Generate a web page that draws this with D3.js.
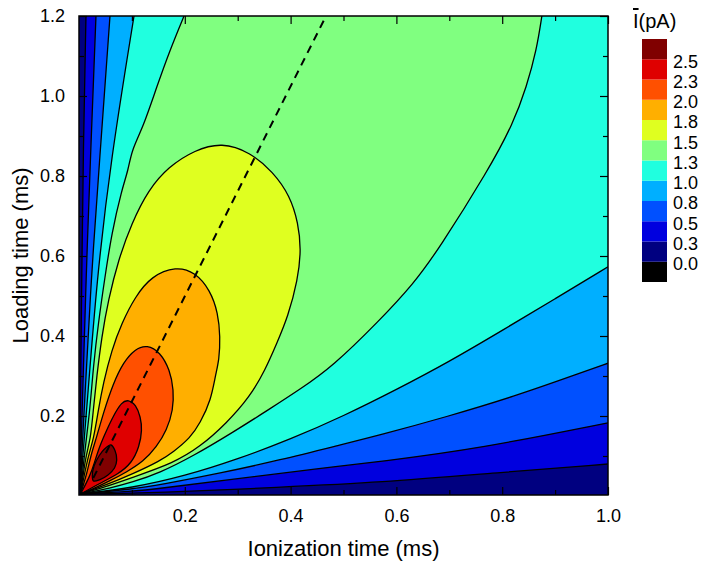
<!DOCTYPE html>
<html>
<head>
<meta charset="utf-8">
<script src="https://cdn.jsdelivr.net/npm/d3@7"></script>
<style>
  body { margin: 0; background: #fff; }
  text { font-family: "Liberation Sans", Arial, sans-serif; fill: #000; }
</style>
</head>
<body>
<svg id="chart" width="704" height="565"></svg>
<script>
// contour levels (pA) and the fill colour of each band (navy = 0..0.25 ... dark red = >2.5)
var levels = [0.25, 0.5, 0.75, 1.0, 1.25, 1.5, 1.75, 2.0, 2.25, 2.5];
var bandColors = ["#000080", "#0000df", "#0050ff", "#00afff", "#20ffdf", "#80ff80",
                  "#dfff20", "#ffaf00", "#ff5000", "#df0000", "#800000"];
var belowColor = "#000000";
var barLabels = ["0.0", "0.3", "0.5", "0.8", "1.0", "1.3", "1.5", "1.8", "2.0", "2.3", "2.5"];

var xMajor = [0.2, 0.4, 0.6, 0.8, 1.0];
var xMinor = [0.1, 0.3, 0.5, 0.7, 0.9];
var yMajor = [0.2, 0.4, 0.6, 0.8, 1.0, 1.2];
var yMinor = [0.1, 0.3, 0.5, 0.7, 0.9, 1.1];

// contour lines, [ionization ms, loading ms]
// open levels: L = branch above the ridge, R = branch below, both from the origin outwards
var origin = [0.003, 0.005];
var c025L = [origin, [0.0015, 0.1], [0.0035, 0.32], [0.0051, 0.54], [0.0081, 0.865], [0.0132, 1.2]];
var c025R = [origin, [0.15, 0.008], [0.38, 0.022], [0.57, 0.034], [0.78, 0.057], [1.0, 0.08]];
var c050L = [origin, [0.0029, 0.1], [0.0062, 0.215], [0.0132, 0.54], [0.0215, 0.84], [0.0321, 1.2]];
var c050R = [origin, [0.1, 0.011], [0.153, 0.019], [0.304, 0.044], [0.456, 0.069], [0.569, 0.086],
             [0.758, 0.119], [1.0, 0.183]];
var c075L = [origin, [0.0047, 0.1], [0.01, 0.215], [0.0227, 0.54], [0.039, 0.84], [0.0586, 1.2]];
var c075R = [origin, [0.1, 0.017], [0.153, 0.028], [0.267, 0.057], [0.38, 0.09], [0.493, 0.1275],
             [0.569, 0.1525], [0.695, 0.198], [0.821, 0.248], [0.947, 0.307], [1.0, 0.332]];
var c100L = [origin, [0.0068, 0.1], [0.0146, 0.215], [0.0335, 0.54], [0.06, 0.84], [0.104, 1.2]];
var c100R = [origin, [0.1, 0.02], [0.2, 0.05], [0.3, 0.092], [0.4, 0.142], [0.5, 0.2], [0.6, 0.266],
             [0.7, 0.336], [0.8, 0.414], [0.9, 0.493], [1.0, 0.573]];
var c125L = [origin, [0.0097, 0.1], [0.0208, 0.215], [0.027, 0.323], [0.0365, 0.432], [0.0491, 0.548],
             [0.0618, 0.657], [0.0807, 0.765], [0.0932, 0.815], [0.0996, 0.865], [0.1215, 0.923],
             [0.147, 1.023], [0.172, 1.115], [0.1985, 1.2]];
var c125R = [origin, [0.06, 0.02], [0.1, 0.034], [0.153, 0.058], [0.216, 0.1], [0.292, 0.16],
             [0.361, 0.218], [0.418, 0.267], [0.478, 0.322], [0.569, 0.44], [0.632, 0.53],
             [0.679, 0.615], [0.774, 0.815], [0.821, 0.932], [0.846, 1.023], [0.865, 1.115],
             [0.875, 1.2]];
// closed levels, drawn from the origin round the loop and back
var c150 = [origin, [0.0125, 0.1], [0.0217, 0.14], [0.027, 0.215], [0.0335, 0.298], [0.0429, 0.398],
            [0.0554, 0.49], [0.0743, 0.59], [0.0996, 0.682], [0.131, 0.765], [0.169, 0.823],
            [0.219, 0.865], [0.27, 0.884], [0.323, 0.86], [0.367, 0.81], [0.399, 0.75],
            [0.4145, 0.682], [0.42, 0.615], [0.4135, 0.54], [0.395, 0.448], [0.374, 0.382],
            [0.352, 0.315], [0.323, 0.248], [0.279, 0.182], [0.229, 0.123], [0.178, 0.082],
            [0.1, 0.046], [0.049, 0.0225], origin];
var c175 = [origin, [0.017, 0.1], [0.0274, 0.14], [0.0365, 0.215], [0.0459, 0.282], [0.0618, 0.365],
            [0.0807, 0.432], [0.106, 0.498], [0.137, 0.55], [0.1834, 0.574], [0.219, 0.56],
            [0.248, 0.515], [0.263, 0.457], [0.267, 0.398], [0.265, 0.34], [0.258, 0.3025],
            [0.2495, 0.24], [0.229, 0.182], [0.21, 0.145], [0.178, 0.11], [0.153, 0.0875],
            [0.1026, 0.056], [0.0524, 0.028], origin];
var c200 = [origin, [0.0157, 0.06], [0.022, 0.1], [0.0335, 0.148], [0.0459, 0.207], [0.0648, 0.282],
            [0.0837, 0.334], [0.106, 0.368], [0.129, 0.378], [0.153, 0.36], [0.172, 0.315],
            [0.179, 0.265], [0.178, 0.215], [0.166, 0.165], [0.147, 0.123], [0.1215, 0.086],
            [0.0902, 0.06], [0.0586, 0.038], [0.027, 0.018], origin];
var c225 = [origin, [0.0208, 0.05], [0.0289, 0.082], [0.0384, 0.123], [0.0524, 0.165], [0.0648, 0.2],
            [0.0807, 0.235], [0.0932, 0.241], [0.1077, 0.228], [0.1163, 0.198], [0.1195, 0.165],
            [0.114, 0.123], [0.0996, 0.082], [0.0743, 0.055], [0.0397, 0.032], origin];
var c250 = [[0.0605, 0.1275], [0.068, 0.114], [0.0713, 0.09], [0.0671, 0.07], [0.0548, 0.0525],
            [0.0397, 0.041], [0.0274, 0.0375], [0.0251, 0.05], [0.0284, 0.075], [0.0378, 0.1],
            [0.0482, 0.1175]];

// dashed ridge line
var ridgeX = [0.027, 0.467];
var ridgeY = [0.045, 1.2];

var svg = d3.select("#chart");
var x = d3.scaleLinear().domain([0, 1]).range([79, 608]);
var y = d3.scaleLinear().domain([0, 1.2]).range([496, 16]);
var frame = { left: x(0), right: x(1), top: y(1.2), bottom: 495 };

svg.append("clipPath").attr("id", "plotClip")
  .append("rect")
  .attr("x", frame.left).attr("y", frame.top)
  .attr("width", frame.right - frame.left).attr("height", frame.bottom - frame.top);

var curve = d3.line()
  .x(function(d) { return x(d[0]); })
  .y(function(d) { return y(d[1]); })
  .curve(d3.curveBasis);

var loop = d3.line()
  .x(function(d) { return x(d[0]); })
  .y(function(d) { return y(d[1]); })
  .curve(d3.curveCatmullRomClosed.alpha(0.5));

function openRegion(L, R, ends) {
  var p = curve(L.slice().reverse()) + curve(R).replace(/^M/, "L");
  ends.forEach(function(c) { p += "L" + x(c[0]) + "," + y(c[1]); });
  return p + "Z";
}

var regions = [
  { fill: openRegion(c025L, c025R, [[1.05, 0.08], [1.05, 1.25], [0.0132, 1.25]]), line: [curve(c025L), curve(c025R)] },
  { fill: openRegion(c050L, c050R, [[1.05, 0.183], [1.05, 1.25], [0.0321, 1.25]]), line: [curve(c050L), curve(c050R)] },
  { fill: openRegion(c075L, c075R, [[1.05, 0.332], [1.05, 1.25], [0.0586, 1.25]]), line: [curve(c075L), curve(c075R)] },
  { fill: openRegion(c100L, c100R, [[1.05, 0.573], [1.05, 1.25], [0.104, 1.25]]), line: [curve(c100L), curve(c100R)] },
  { fill: openRegion(c125L, c125R, [[0.875, 1.25], [0.1985, 1.25]]), line: [curve(c125L), curve(c125R)] },
  { fill: curve(c150) + "Z", line: [curve(c150)] },
  { fill: curve(c175) + "Z", line: [curve(c175)] },
  { fill: curve(c200) + "Z", line: [curve(c200)] },
  { fill: curve(c225) + "Z", line: [curve(c225)] },
  { fill: loop(c250), line: [loop(c250)] }
];

var plot = svg.append("g").attr("clip-path", "url(#plotClip)");

plot.append("rect")
  .attr("x", frame.left).attr("y", frame.top)
  .attr("width", frame.right - frame.left).attr("height", frame.bottom - frame.top)
  .attr("fill", bandColors[0]);

plot.selectAll("path.band")
  .data(regions)
  .enter().append("path")
  .attr("class", "band")
  .attr("d", function(d) { return d.fill; })
  .attr("fill", function(d, i) { return bandColors[i + 1]; })
  .attr("stroke", "none");

var lineData = [];
regions.forEach(function(r) { r.line.forEach(function(l) { lineData.push(l); }); });

plot.selectAll("path.contour")
  .data(lineData)
  .enter().append("path")
  .attr("class", "contour")
  .attr("d", function(d) { return d; })
  .attr("fill", "none")
  .attr("stroke", "#000")
  .attr("stroke-width", 1.3);

plot.append("line")
  .attr("x1", x(ridgeX[0])).attr("y1", y(ridgeY[0]))
  .attr("x2", x(ridgeX[1])).attr("y2", y(ridgeY[1]))
  .attr("stroke", "#000")
  .attr("stroke-width", 2)
  .attr("stroke-dasharray", "8,6");

// axes, ticks inward on all four sides
function drawAxis(gen, tx, ty, labels) {
  var g = svg.append("g").attr("transform", "translate(" + tx + "," + ty + ")").call(gen);
  g.select(".domain").remove();
  g.selectAll(".tick line").attr("stroke", "#000").attr("stroke-width", 1.2);
  if (!labels) g.selectAll(".tick text").remove();
  else g.selectAll(".tick text").attr("font-size", 18).attr("font-family", "Liberation Sans, Arial, sans-serif");
  return g;
}
var fmt = d3.format(".1f");
drawAxis(d3.axisBottom(x).tickValues(xMajor).tickSize(-8).tickPadding(14).tickFormat(fmt), 0, frame.bottom, true);
drawAxis(d3.axisBottom(x).tickValues(xMinor).tickSize(-5), 0, frame.bottom, false);
drawAxis(d3.axisTop(x).tickValues(xMajor).tickSize(-8), 0, frame.top, false);
drawAxis(d3.axisTop(x).tickValues(xMinor).tickSize(-5), 0, frame.top, false);
drawAxis(d3.axisLeft(y).tickValues(yMajor).tickSize(-8).tickPadding(14).tickFormat(fmt), frame.left, 0, true);
drawAxis(d3.axisLeft(y).tickValues(yMinor).tickSize(-5), frame.left, 0, false);
drawAxis(d3.axisRight(y).tickValues(yMajor).tickSize(-8), frame.right, 0, false);
drawAxis(d3.axisRight(y).tickValues(yMinor).tickSize(-5), frame.right, 0, false);

svg.append("rect")
  .attr("x", frame.left).attr("y", frame.top)
  .attr("width", frame.right - frame.left).attr("height", frame.bottom - frame.top)
  .attr("fill", "none").attr("stroke", "#000").attr("stroke-width", 1.5);

svg.append("text")
  .attr("x", (frame.left + frame.right) / 2).attr("y", 556)
  .attr("text-anchor", "middle").attr("font-size", 22)
  .text("Ionization time (ms)");

svg.append("text")
  .attr("transform", "translate(28," + ((frame.top + frame.bottom) / 2) + ") rotate(-90)")
  .attr("text-anchor", "middle").attr("font-size", 22)
  .text("Loading time (ms)");

// colour bar
var barLevels = [-0.25].concat([0].concat(levels));
var barColors = [belowColor].concat(bandColors);
var cb = d3.scaleLinear().domain([-0.25, 2.75]).range([282, 39]);
var bar = svg.append("g");
bar.selectAll("rect")
  .data(barColors)
  .enter().append("rect")
  .attr("x", 642).attr("width", 25)
  .attr("y", function(d, i) { return cb(barLevels[i] + 0.25); })
  .attr("height", function(d, i) { return cb(barLevels[i]) - cb(barLevels[i] + 0.25); })
  .attr("fill", function(d) { return d; });

bar.selectAll("text")
  .data(barLabels)
  .enter().append("text")
  .attr("x", 673)
  .attr("y", function(d, i) { return cb(i * 0.25) + 2; })
  .attr("dy", "0.35em")
  .attr("font-size", 18)
  .text(function(d) { return d; });

var title = svg.append("text").attr("x", 633).attr("y", 28).attr("font-size", 20);
title.append("tspan").style("text-decoration", "overline").text("I");
title.append("tspan").text("(pA)");
</script>
</body>
</html>
